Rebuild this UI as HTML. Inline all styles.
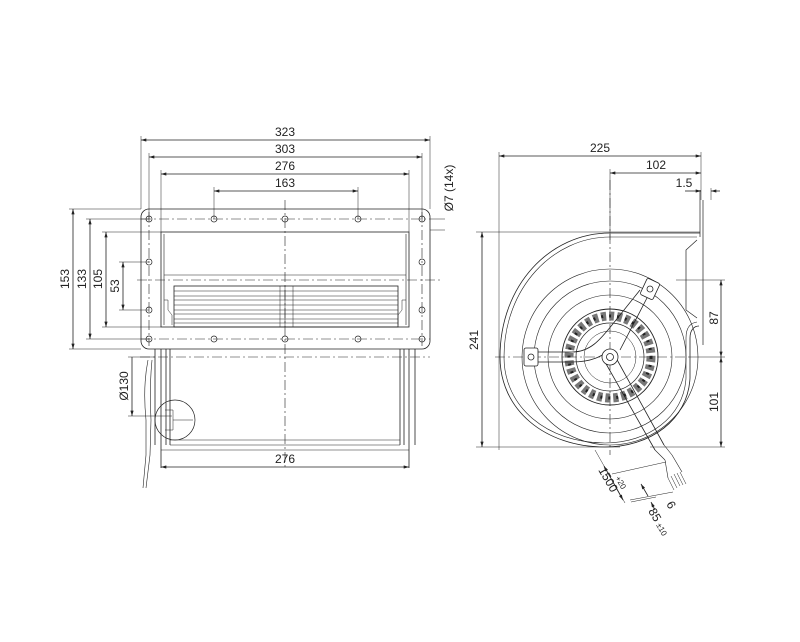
<!DOCTYPE html>
<html><head><meta charset="utf-8"><style>
html,body{margin:0;padding:0;background:#fff}
svg{display:block}
text{font-family:"Liberation Sans",sans-serif;font-size:12px;fill:#222}
</style></head><body>
<svg width="800" height="642" viewBox="0 0 800 642" xmlns="http://www.w3.org/2000/svg">
<defs>
<marker id="a" viewBox="0 0 10 6" refX="10" refY="3" markerWidth="8" markerHeight="4" orient="auto-start-reverse"><path d="M0,0L10,3L0,6z" fill="#222"/></marker>
</defs>
<g stroke="#222" stroke-width="0.8" fill="none">
<path d="M141,136V209M430,136V209M149,153V219M422,153V219M161,170V232M409,170V232M214,187V219M358,187V219" stroke-width="0.5"/>
<line x1="141" y1="140" x2="430" y2="140" marker-start="url(#a)" marker-end="url(#a)"/>
<line x1="149" y1="157" x2="422" y2="157" marker-start="url(#a)" marker-end="url(#a)"/>
<line x1="161" y1="174" x2="409" y2="174" marker-start="url(#a)" marker-end="url(#a)"/>
<line x1="214" y1="191" x2="358" y2="191" marker-start="url(#a)" marker-end="url(#a)"/>
<path d="M69,209H141M86,219H149M102,232H161M119,262H149M119,310H149M69,349H141M86,339H149M102,327H161" stroke-width="0.5"/>
<line x1="73" y1="209" x2="73" y2="349" marker-start="url(#a)" marker-end="url(#a)"/>
<line x1="90" y1="219" x2="90" y2="339" marker-start="url(#a)" marker-end="url(#a)"/>
<line x1="106" y1="232" x2="106" y2="327" marker-start="url(#a)" marker-end="url(#a)"/>
<line x1="123" y1="262" x2="123" y2="310" marker-start="url(#a)" marker-end="url(#a)"/>
<rect x="141" y="209" width="289" height="140" rx="8"/>
<g stroke-dasharray="10,3,2,3" stroke-width="0.6">
<line x1="285" y1="200" x2="285" y2="470"/>
<line x1="137" y1="280" x2="440" y2="280"/>
<line x1="140" y1="357" x2="430" y2="357"/>
<line x1="149" y1="212" x2="149" y2="346"/><line x1="422" y1="212" x2="422" y2="346"/>
<line x1="141" y1="219" x2="430" y2="219"/><line x1="141" y1="339" x2="430" y2="339"/>
</g>
<g stroke-width="0.7">
<circle cx="149" cy="219" r="3"/><circle cx="214" cy="219" r="3"/><circle cx="285" cy="219" r="3"/><circle cx="358" cy="219" r="3"/><circle cx="422" cy="219" r="3"/>
<circle cx="149" cy="339" r="3"/><circle cx="214" cy="339" r="3"/><circle cx="285" cy="339" r="3"/><circle cx="358" cy="339" r="3"/><circle cx="422" cy="339" r="3"/>
<circle cx="149" cy="262" r="3"/><circle cx="149" cy="310" r="3"/><circle cx="422" cy="262" r="3"/><circle cx="422" cy="310" r="3"/>
</g>
<path d="M430,219H445M430,230H445" stroke-width="0.5"/>
<rect x="161" y="232" width="248" height="95"/>
<path d="M164,234V325M406,234V325M164,275H406" stroke-width="0.6"/>
<rect x="174" y="286" width="224" height="41"/>
<g stroke-width="0.5">
<path d="M174,291H398M174,296H398M174,300H398M174,305H398M174,310H398M174,314H398M174,319H398M174,323H398M280,286V327M285,286V327M293,286V327"/>
<path d="M164,300h4v10l4,5v10M406,300h-4v10l-4,5v10"/>
</g>
<path d="M161,349V468M409,349V468M170,349V445M400,349V445M155,349V445M415,349V445M166,349V445M404,349V445"/>
<path d="M170,445H400M161,450H409M170,440H400" stroke-width="0.6"/>
<circle cx="175" cy="420" r="20" stroke-width="0.7"/>
<path d="M165,410h8v20h-8M173,420h20" stroke-width="0.5"/>
<path d="M148,360C144,380 144,400 146,420L146,455L143,488M152,360C150,380 150,400 151,420L150,455L146,488" stroke-width="0.6"/>
<path d="M128,416H172M128,357H155" stroke-width="0.5"/>
<line x1="132" y1="357" x2="132" y2="416" marker-end="url(#a)"/>
<line x1="161" y1="467" x2="409" y2="467" marker-start="url(#a)" marker-end="url(#a)"/>

<path d="M499,152V450M610,169V240M701,152V200M711,188V200M476,232H700M476,447H620M676,280H725M690,357H725M650,447H725" stroke-width="0.5"/>
<line x1="499" y1="156" x2="701" y2="156" marker-start="url(#a)" marker-end="url(#a)"/>
<line x1="610" y1="173" x2="701" y2="173" marker-start="url(#a)" marker-end="url(#a)"/>
<line x1="685" y1="191" x2="701" y2="191" marker-end="url(#a)"/>
<line x1="720" y1="191" x2="711" y2="191" marker-end="url(#a)"/>
<line x1="482" y1="232" x2="482" y2="447" marker-start="url(#a)" marker-end="url(#a)"/>
<line x1="721" y1="280" x2="721" y2="357" marker-start="url(#a)" marker-end="url(#a)"/>
<line x1="721" y1="357" x2="721" y2="447" marker-start="url(#a)" marker-end="url(#a)"/>
<g stroke-dasharray="10,3,2,3" stroke-width="0.6">
<line x1="610" y1="180" x2="610" y2="455"/>
<line x1="495" y1="357" x2="690" y2="357"/>
</g>
<path d="M700,233H610C550,233 500,285 500,357C500,410 545,447 605,447C650,447 688,420 690,378L690,338C690,330 694,326 699,326"/>
<path d="M697,237H610C553,237 504,288 504,357C504,407 547,443 605,443C648,443 684,417 686,378L686,338C686,328 690,323 697,322" stroke-width="0.6"/>
<path d="M700,237V190M703,200V345M697,240L686,250V310L697,318" stroke-width="0.7"/>
<circle cx="610" cy="357" r="88" stroke-width="0.6"/>
<circle cx="610" cy="357" r="76" stroke-width="0.6"/>
<circle cx="610" cy="357" r="62" stroke-width="0.6"/>
<circle cx="610" cy="357" r="48" stroke-width="0.9"/>
<circle cx="610" cy="357" r="34" stroke-width="0.7"/>
<circle cx="610" cy="357" r="26" stroke-width="0.5"/>
<circle cx="610" cy="357" r="41" stroke-width="9" stroke-dasharray="5,3" stroke="#777"/>
<circle cx="610" cy="357" r="41" stroke-width="3" stroke-dasharray="2,6" stroke="#222"/>
<path d="M530,352H572C590,352 600,340 612,325L640,290M530,362H572C592,362 602,356 610,350M620,350L648,296" stroke-width="0.8"/>
<rect x="524" y="348" width="14" height="18" rx="2" fill="#fff"/>
<circle cx="531" cy="357" r="3"/>
<rect x="643" y="280" width="14" height="18" rx="2" transform="rotate(25 650 289)" fill="#fff"/>
<circle cx="650" cy="289" r="3"/>
<path d="M605,362L655,450M615,356L664,445" stroke-width="0.8"/>
<circle cx="610" cy="357" r="8" fill="#fff"/><circle cx="610" cy="357" r="3.5"/>
<path d="M655,450L665,460M664,445L672,455M665,460L668,478M672,455L682,472" stroke-width="0.6"/>
<path d="M668,478l6,12M671,476l6,12M674,474l6,12M677,473l6,12M680,472l6,12" stroke-width="0.5"/>
<path d="M595,450L625,503M612,474L666,462M630,500L673,492M631,502L656,497" stroke-width="0.5"/>
<line x1="604" y1="466" x2="623" y2="500" marker-start="url(#a)" marker-end="url(#a)"/>
<line x1="648" y1="496" x2="641" y2="484" marker-end="url(#a)"/>
<line x1="655" y1="510" x2="651" y2="502" marker-end="url(#a)"/>
</g>
<text x="285" y="136" text-anchor="middle">323</text>
<text x="285" y="153" text-anchor="middle">303</text>
<text x="285" y="170" text-anchor="middle">276</text>
<text x="285" y="187" text-anchor="middle">163</text>
<text x="285" y="463" text-anchor="middle">276</text>
<text transform="translate(69,279) rotate(-90)" text-anchor="middle">153</text>
<text transform="translate(86,279) rotate(-90)" text-anchor="middle">133</text>
<text transform="translate(102,279) rotate(-90)" text-anchor="middle">105</text>
<text transform="translate(119,286) rotate(-90)" text-anchor="middle">53</text>
<text transform="translate(128,386) rotate(-90)" text-anchor="middle">Ø130</text>
<text transform="translate(453,188) rotate(-90)" text-anchor="middle">Ø7 (14x)</text>
<text x="600" y="152" text-anchor="middle">225</text>
<text x="656" y="169" text-anchor="middle">102</text>
<text x="684" y="187" text-anchor="middle">1.5</text>
<text transform="translate(478,340) rotate(-90)" text-anchor="middle">241</text>
<text transform="translate(718,318) rotate(-90)" text-anchor="middle">87</text>
<text transform="translate(718,402) rotate(-90)" text-anchor="middle">101</text>
<text transform="translate(598,470) rotate(60)">1500</text>
<text transform="translate(615,478) rotate(60)" style="font-size:8px">+20</text>
<text transform="translate(666,504) rotate(60)">6</text>
<text transform="translate(648,511) rotate(60)">85</text>
<text transform="translate(656,525) rotate(60)" style="font-size:8px">±10</text>
</svg>
</body></html>
